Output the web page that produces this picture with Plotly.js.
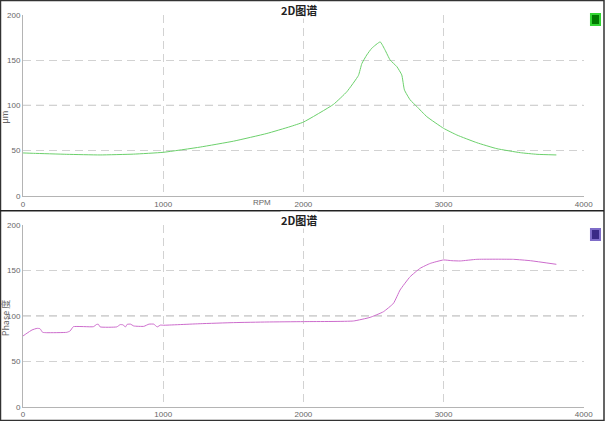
<!DOCTYPE html>
<html>
<head>
<meta charset="utf-8">
<script src="https://cdn.plot.ly/plotly-3.0.1.min.js"></script>
<style>html,body{margin:0;padding:0;background:#fff;}#chart{width:606px;height:421px;}</style>
</head>
<body>
<div id="chart"></div>
<script>
// Amplitude (top) series
const ampRpm = [0, 74, 312, 550, 788, 1000, 1264, 1502, 1740, 1905, 2000, 2214, 2310, 2393, 2417, 2452, 2488, 2548, 2583, 2619, 2667, 2702, 2721, 2762, 2810, 2881, 3000, 3095, 3238, 3381, 3548, 3667, 3805];
const ampVal = [47.5, 47.1, 46, 45.3, 46.2, 48.2, 54, 60.5, 69, 76.5, 81.5, 101, 115, 133, 146, 155.5, 163, 170, 161, 150, 142.7, 133.6, 117, 106, 98.6, 87.5, 74.7, 67.3, 58.8, 52.2, 47.8, 46, 45.3];
// Phase (bottom) series
const phRpm = [0, 28, 64, 100, 121, 140, 169, 312, 336, 359, 502, 526, 538, 550, 669, 693, 712, 731, 743, 767, 790, 862, 898, 933, 957, 981, 1000, 1264, 1502, 1740, 2000, 2357, 2476, 2571, 2643, 2690, 2762, 2833, 2905, 3000, 3060, 3119, 3238, 3500, 3619, 3805];
const phVal = [78, 81, 84.6, 86.4, 86, 82, 81.6, 82, 83.5, 88.2, 88.2, 90.8, 90.8, 88, 88, 90.5, 90.3, 88, 90.8, 91, 89, 88.6, 91, 91, 88, 90, 89.8, 91.5, 92.7, 93.4, 93.8, 94.5, 98.5, 104.7, 114, 128.7, 143.4, 152.6, 158, 161.8, 161, 160.7, 162.5, 162.5, 161, 157];
const xTicks = [0, 1000, 2000, 3000, 4000];
const yTicks = [0, 50, 100, 150, 200];
const chartTitle = "2D图谱";
const xTitle = "RPM";
const yTitleTop = "μm";
const yTitleBottom = "Phase 度";

const tickFont = {family: "Liberation Sans, Arial, sans-serif", size: 8, color: "#666"};
const dash = "8px,5px";
function xa(anchor){
  return {domain:[0.038,0.9632], range:[0,4000], tickvals:xTicks, ticktext:xTicks.map(String),
    showgrid:true, gridcolor:"#d2d2d2", griddash:dash, gridwidth:1, zeroline:false,
    showline:true, linecolor:"#b4b4b4", linewidth:1, ticks:"", tickfont:tickFont, anchor:anchor, ticklen:0, fixedrange:true};
}
function ya(anchor, dom){
  return {domain:dom, range:[0,200], tickvals:yTicks, ticktext:yTicks.map(String),
    showgrid:true, gridcolor:"#d2d2d2", griddash:dash, gridwidth:1, zeroline:false,
    showline:true, linecolor:"#b4b4b4", linewidth:1, ticks:"", tickfont:tickFont, anchor:anchor, fixedrange:true};
}
const traces = [
  {x: ampRpm, y: ampVal, type:"scatter", mode:"lines", line:{color:"#6cd06c", width:1, shape:"spline", smoothing:0.4}, xaxis:"x", yaxis:"y", hoverinfo:"skip"},
  {x: phRpm, y: phVal, type:"scatter", mode:"lines", line:{color:"#cc6ccc", width:1, shape:"spline", smoothing:0.4}, xaxis:"x2", yaxis:"y2", hoverinfo:"skip"}
];
const layout = {
  width:606, height:421, margin:{l:0,r:0,t:0,b:0}, paper_bgcolor:"#fff", plot_bgcolor:"#fff", showlegend:false,
  xaxis: xa("y"), yaxis: ya("x", [0.5344,0.9651]),
  xaxis2: xa("y2"), yaxis2: ya("x2", [0.034,0.4648]),
  shapes:[
    {type:"line", xref:"x", yref:"y", x0:0, x1:4000, y0:100, y1:100, line:{color:"#a0a0a0", width:1, dash:dash}, layer:"below"},
    {type:"line", xref:"x2", yref:"y2", x0:0, x1:4000, y0:100, y1:100, line:{color:"#bcbcbc", width:1, dash:dash}, layer:"below"},
    {type:"rect", xref:"paper", yref:"paper", x0:0.0008, x1:0.9967, y0:0.0012, y1:0.9988, line:{color:"#333", width:1.5}},
    {type:"line", xref:"paper", yref:"paper", x0:0, x1:0.9967, y0:0.4995, y1:0.4995, line:{color:"#222", width:1.5}},
    {type:"rect", xref:"paper", yref:"paper", x0:0.9752, x1:0.9901, y0:0.9406, y1:0.9667, fillcolor:"#007a00", line:{color:"#33d633", width:2}},
    {type:"rect", xref:"paper", yref:"paper", x0:0.9752, x1:0.9901, y0:0.4300, y1:0.4561, fillcolor:"#3a2a86", line:{color:"#7e6cc8", width:2}}
  ],
  annotations:[
    {text:chartTitle, xref:"paper", yref:"paper", x:0.494, y:0.976, xanchor:"center", yanchor:"middle", showarrow:false, font:{family:"Noto Sans CJK SC", size:11, color:"#222", weight:600}, bgcolor:"#fff", borderpad:0},
    {text:chartTitle, xref:"paper", yref:"paper", x:0.494, y:0.4775, xanchor:"center", yanchor:"middle", showarrow:false, font:{family:"Noto Sans CJK SC", size:11, color:"#222", weight:600}, bgcolor:"#fff", borderpad:0},
    {text:xTitle, xref:"paper", yref:"paper", x:0.432, y:0.518, xanchor:"center", yanchor:"middle", showarrow:false, font:{family:"Liberation Sans, Arial", size:8, color:"#666"}},
    {text:yTitleTop, xref:"paper", yref:"paper", x:0.009, y:0.722, xanchor:"center", yanchor:"middle", textangle:-90, showarrow:false, font:{family:"Liberation Sans, Arial", size:9, color:"#666"}},
    {text:yTitleBottom, xref:"paper", yref:"paper", x:0.009, y:0.245, xanchor:"center", yanchor:"middle", textangle:-90, showarrow:false, font:{family:"Noto Sans CJK SC, Liberation Sans", size:9, color:"#666"}}
  ]
};
Plotly.newPlot("chart", traces, layout, {displayModeBar:false, staticPlot:true});
</script>
</body>
</html>
